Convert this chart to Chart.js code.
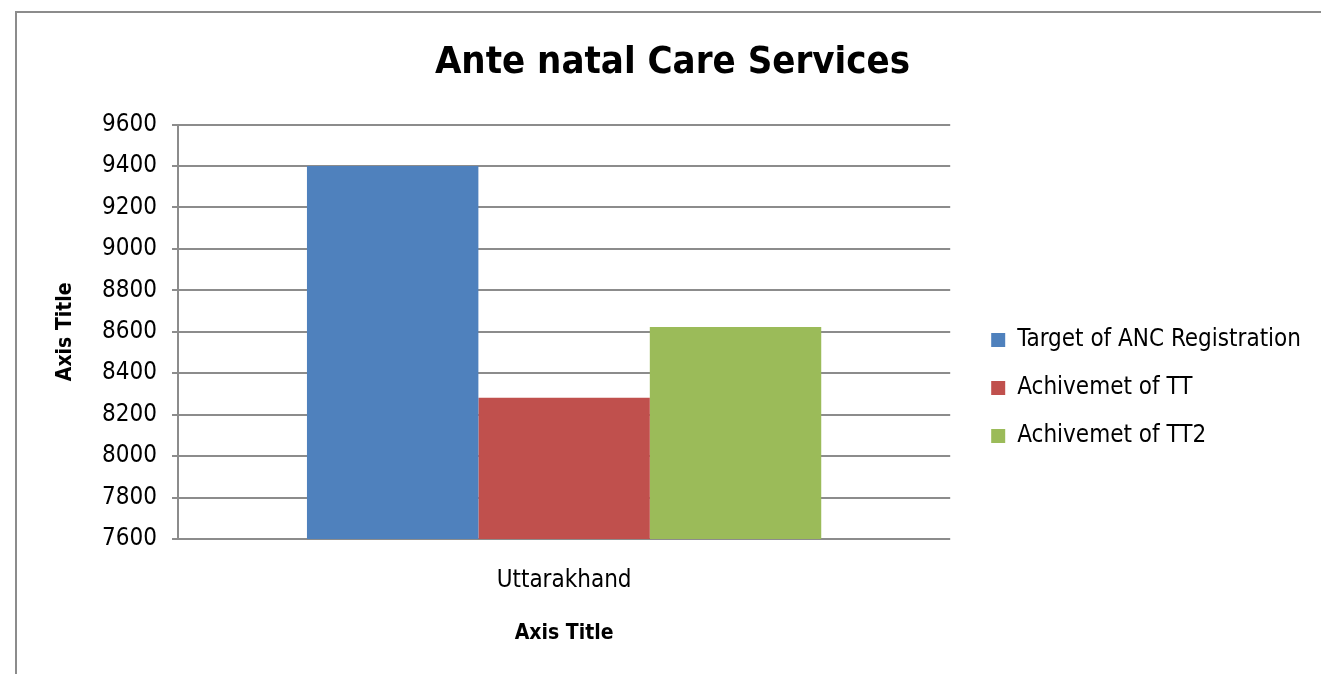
<!DOCTYPE html>
<html>
<head>
<meta charset="utf-8">
<script src="https://cdn.jsdelivr.net/npm/chart.js@4/dist/chart.umd.min.js"></script>
<style>
  html, body { margin: 0; padding: 0; background: #fff; overflow: hidden; }
  #frame { position: absolute; left: 15px; top: 11px; width: 1400px; height: 800px; border: 2px solid #8c8c8c; }
  #wrap { position: absolute; left: 0; top: 0; width: 1321px; height: 674px; }
</style>
</head>
<body>
<div id="frame"></div>
<div id="wrap"><canvas id="myChart" width="1321" height="674"></canvas></div>
<script>
// chart data
var categories = ['Uttarakhand'];
var seriesNames = ['Target of ANC Registration', 'Achivemet of TT', 'Achivemet of TT2'];
var targetAnc = [9400];
var achievementTT = [8282];
var achievementTT2 = [8623];
var yTicks = [7600, 7800, 8000, 8200, 8400, 8600, 8800, 9000, 9200, 9400, 9600];

var colors = ['#4f81bd', '#c0504d', '#9bbb59'];
var fontFamily = '"Liberation Sans Narrow", "DejaVu Sans Condensed", "Liberation Sans", sans-serif';

Chart.defaults.font.family = fontFamily;
Chart.defaults.color = '#000';

var data = {
  labels: categories,
  datasets: [
    { label: seriesNames[0], data: targetAnc, backgroundColor: colors[0] },
    { label: seriesNames[1], data: achievementTT, backgroundColor: colors[1] },
    { label: seriesNames[2], data: achievementTT2, backgroundColor: colors[2] }
  ]
};

var config = {
  type: 'bar',
  data: data,
  options: {
    responsive: false,
    animation: false,
    layout: { padding: { left: 34, right: 10, top: 10, bottom: 24 } },
    datasets: { bar: { categoryPercentage: 0.666, barPercentage: 1.0 } },
    plugins: {
      tooltip: { enabled: false },
      title: {
        display: true,
        text: 'Ante natal Care Services',
        font: { size: 38, weight: 'bold' },
        color: '#000',
        padding: { top: 30, bottom: 39 }
      },
      legend: {
        position: 'right',
        maxWidth: 420,
        title: { display: true, text: '', font: { size: 10, lineHeight: 1 }, padding: { top: 0, bottom: 106 } },
        labels: {
          boxWidth: 14,
          boxHeight: 14,
          padding: 24,
          font: { size: 24 },
          color: '#000'
        }
      }
    },
    scales: {
      x: {
        grid: { display: false, drawTicks: false, tickLength: 0 },
        border: { display: false },
        ticks: { padding: 27, font: { size: 24 }, color: '#000' },
        title: { display: true, text: 'Axis Title', font: { size: 21, weight: 'bold' }, color: '#000', padding: { top: 30, bottom: 4 } },
        afterFit: function (scale) { scale.height = 111; }
      },
      y: {
        min: yTicks[0],
        max: yTicks[yTicks.length - 1],
        afterBuildTicks: function (scale) {
          scale.ticks = yTicks.map(function (v) { return { value: v }; });
        },
        grid: { color: '#8c8c8c', lineWidth: 2, tickLength: 6 },
        border: { display: true, color: '#8c8c8c', width: 2 },
        ticks: {
          padding: 15,
          font: { size: 24 },
          color: '#000',
          callback: function (value) { return String(value); }
        },
        title: { display: true, text: 'Axis Title', font: { size: 21, weight: 'bold' }, color: '#000', padding: { top: 19, bottom: 4 } },
        afterFit: function (scale) { scale.width = 144; }
      },
      gap: {
        type: 'linear',
        position: 'right',
        display: true,
        grid: { display: false, drawTicks: false },
        border: { display: false },
        ticks: { display: false },
        afterFit: function (scale) { scale.width = 17; }
      }
    }
  }
};

var myChart = new Chart(document.getElementById('myChart'), config);
</script>
</body>
</html>
